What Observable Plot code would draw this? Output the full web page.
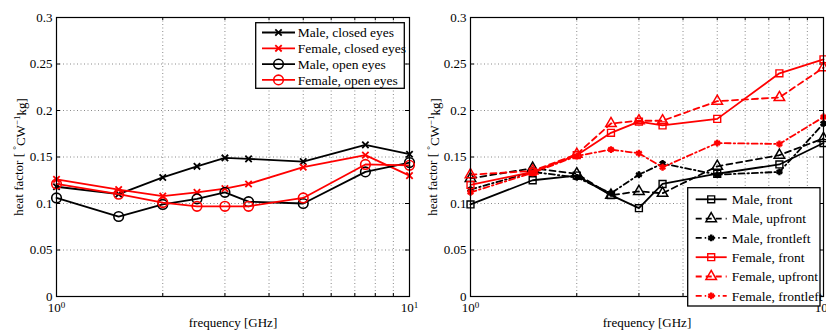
<!DOCTYPE html>
<html><head><meta charset="utf-8">
<script src="https://cdn.jsdelivr.net/npm/d3@7"></script>
<script src="https://cdn.jsdelivr.net/npm/@observablehq/plot@0.6"></script>
<style>
html,body{margin:0;padding:0;background:#fff;}
#wrap{position:relative;width:826px;height:334px;overflow:hidden;background:#fff;}
#wrap svg{position:absolute;top:0;overflow:visible;}
</style></head><body><div id="wrap"></div>
<script>
// ---- data ----
const freqs = [1, 1.5, 2, 2.5, 3, 3.5, 5, 7.5, 10];

const maleClosed   = [0.118, 0.110, 0.128, 0.140, 0.149, 0.148, 0.145, 0.163, 0.153];
const femaleClosed = [0.126, 0.115, 0.108, 0.112, 0.116, 0.121, 0.139, 0.152, 0.130];
const maleOpen     = [0.106, 0.086, 0.099, 0.105, 0.112, 0.102, 0.100, 0.134, 0.144];
const femaleOpen   = [0.121, 0.110, 0.101, 0.097, 0.097, 0.097, 0.106, 0.142, 0.141];

const maleFront       = [0.099, 0.125, 0.130, 0.109, 0.095, 0.121, 0.132, 0.142, 0.165];
const maleUpfront     = [0.127, 0.138, 0.132, 0.109, 0.113, 0.111, 0.140, 0.152, 0.170];
const maleFrontleft   = [0.115, 0.134, 0.128, 0.111, 0.131, 0.143, 0.131, 0.134, 0.186];
const femaleFront     = [0.120, 0.134, 0.152, 0.176, 0.188, 0.184, 0.191, 0.240, 0.255];
const femaleUpfront   = [0.131, 0.135, 0.153, 0.186, 0.189, 0.189, 0.210, 0.214, 0.246];
const femaleFrontleft = [0.112, 0.133, 0.151, 0.158, 0.154, 0.139, 0.165, 0.164, 0.193];

const leftNames  = ["Male, closed eyes", "Female, closed eyes", "Male, open eyes", "Female, open eyes"];
const rightNames = ["Male, front", "Male, upfront", "Male, frontleft", "Female, front", "Female, upfront", "Female, frontleft"];

const yTicks  = [0, 0.05, 0.1, 0.15, 0.2, 0.25, 0.3];
const xMajor  = [1, 10];
const xMinor  = [1, 2, 3, 4, 5, 6, 7, 8, 9, 10];
const xGrid   = [2, 3, 4, 5, 6, 7, 8, 9];
const yLabel  = "heat factor [°CW-1kg]";
const xLabel  = "frequency [GHz]";

// ---- styles ----
const BLACK = "#000000", RED = "#ff0000";
const DASH = "6,4", DASHDOT = "6,3,1.5,3";
const sym = {
  times:    {symbol: "times",    r: 3,   fill: "none", sw: 1.8},
  circle:   {symbol: "circle",   r: 4.8, fill: "none", sw: 1.6},
  square:   {symbol: "square",   r: 3.9, fill: "none", sw: 1.4},
  triangle: {symbol: "triangle", r: 3.9, fill: "none", sw: 1.5},
  asterisk: {symbol: "asterisk", r: 3.2, fill: "none", sw: 2.4}
};
const d3sym = {times: d3.symbolTimes, circle: d3.symbolCircle, square: d3.symbolSquare, triangle: d3.symbolTriangle, asterisk: d3.symbolAsterisk};

const leftSeries = [
  {name: leftNames[0], values: maleClosed,   color: BLACK, dash: null, m: "times"},
  {name: leftNames[1], values: femaleClosed, color: RED,   dash: null, m: "times"},
  {name: leftNames[2], values: maleOpen,     color: BLACK, dash: null, m: "circle"},
  {name: leftNames[3], values: femaleOpen,   color: RED,   dash: null, m: "circle"}
];
const rightSeries = [
  {name: rightNames[0], values: maleFront,       color: BLACK, dash: null,    m: "square"},
  {name: rightNames[1], values: maleUpfront,     color: BLACK, dash: DASH,    m: "triangle"},
  {name: rightNames[2], values: maleFrontleft,   color: BLACK, dash: DASHDOT, m: "asterisk"},
  {name: rightNames[3], values: femaleFront,     color: RED,   dash: null,    m: "square"},
  {name: rightNames[4], values: femaleUpfront,   color: RED,   dash: DASH,    m: "triangle"},
  {name: rightNames[5], values: femaleFrontleft, color: RED,   dash: DASHDOT, m: "asterisk"}
];

function panel(series, mL, mR, legend) {
  const W = 413, H = 334, mT = 17, mB = 38;
  const pw = W - mL - mR, ph = H - mT - mB;
  const marks = [
    Plot.gridY(yTicks.slice(1, -1), {stroke: "#8a8a8a", strokeOpacity: 1, strokeDasharray: "1,2.5"}),
    Plot.gridX(xGrid, {stroke: "#8a8a8a", strokeOpacity: 1, strokeDasharray: "1,2.5"}),
    Plot.tickY(yTicks, {y: d => d, stroke: BLACK, insetRight: pw - 4}),
    Plot.tickY(yTicks, {y: d => d, stroke: BLACK, insetLeft: pw - 4}),
    Plot.tickX(xMinor, {x: d => d, stroke: BLACK, insetTop: ph - 3}),
    Plot.tickX(xMinor, {x: d => d, stroke: BLACK, insetBottom: ph - 3}),
    Plot.axisY({ticks: yTicks, tickSize: 0, tickPadding: 4, tickFormat: d => String(d),
      label: yLabel, labelArrow: "none", labelAnchor: "center", labelOffset: 43, fontSize: 13}),
    Plot.axisX({ticks: xMajor, tickSize: 0, tickPadding: 6,
      tickFormat: d => "10^" + Math.round(Math.log10(d)),
      label: xLabel, labelArrow: "none", labelAnchor: "center", labelOffset: 30, fontSize: 13})
  ];
  for (const s of series) {
    const data = freqs.map((f, i) => ({f, v: s.values[i]}));
    const st = sym[s.m];
    marks.push(Plot.line(data, {x: "f", y: "v", stroke: s.color, strokeWidth: 1.8,
      strokeDasharray: s.dash || undefined}));
    marks.push(Plot.dot(data, {x: "f", y: "v", symbol: st.symbol, r: st.r, stroke: s.color,
      fill: st.fill, strokeWidth: st.sw}));
  }
  marks.push(Plot.frame({stroke: BLACK, strokeWidth: 1.2}));
  const svg = Plot.plot({
    width: W, height: H, marginLeft: mL, marginRight: mR, marginTop: mT, marginBottom: mB,
    style: {fontFamily: "Liberation Serif", fontSize: "13px", background: "transparent", color: "black", overflow: "visible"},
    x: {type: "log", domain: [1, 10]},
    y: {domain: [0, 0.3]},
    marks
  });
  const root = d3.select(svg);
  // superscripts
  root.selectAll("text").each(function() {
    const t = this.textContent.trim();
    const m = /^10\^(\d)$/.exec(t);
    if (m) {
      const el = d3.select(this).text(null);
      el.append("tspan").text("10");
      el.append("tspan").attr("dy", "-0.45em").attr("font-size", "9px").text(m[1]);
    } else if (t.startsWith("heat factor")) {
      const el = d3.select(this).text(null);
      el.append("tspan").text("heat factor [ ");
      el.append("tspan").attr("dy", "-0.45em").attr("font-size", "9px").text("°");
      el.append("tspan").attr("dy", "0.45em").text("CW");
      el.append("tspan").attr("dy", "-0.45em").attr("font-size", "9px").text("−1");
      el.append("tspan").attr("dy", "0.45em").text("kg]");
    } else if (t.startsWith("frequency")) {
      d3.select(this).text(xLabel);
    }
  });
  // legend
  const g = root.append("g").attr("font-family", "Liberation Serif").attr("font-size", 13.5)
    .attr("text-anchor", "start");
  g.append("rect").attr("x", legend.x).attr("y", legend.y).attr("width", legend.w).attr("height", legend.h)
    .attr("fill", "white").attr("stroke", BLACK).attr("stroke-width", 1.3);
  series.forEach((s, i) => {
    const cy = legend.y0 + i * legend.dy;
    const st = sym[s.m];
    g.append("line").attr("x1", legend.lx1).attr("x2", legend.lx2).attr("y1", cy).attr("y2", cy)
      .attr("stroke", s.color).attr("stroke-width", 1.8).attr("stroke-dasharray", s.dash);
    g.append("path").attr("d", d3.symbol(d3sym[s.m], Math.PI * st.r * st.r)())
      .attr("transform", `translate(${(legend.lx1 + legend.lx2) / 2},${cy})`)
      .attr("fill", st.fill).attr("stroke", s.color).attr("stroke-width", st.sw);
    g.append("text").attr("x", legend.tx).attr("y", cy).attr("dy", "0.35em")
      .attr("text-anchor", "start").attr("fill", BLACK).text(s.name);
  });
  return svg;
}

const wrap = document.getElementById("wrap");
const left = panel(leftSeries, 56, 4,
  {x: 255.7, y: 22.7, w: 148.6, h: 65.6, y0: 32.5, dy: 15.8, lx1: 262, lx2: 295, tx: 297.7});
left.style.left = "0px";
const right = panel(rightSeries, 57, 3,
  {x: 274.7, y: 187.7, w: 132.3, h: 118.3, y0: 199.3, dy: 19.3, lx1: 282.7, lx2: 313.7, tx: 318.7});
right.style.left = "413px";
wrap.appendChild(left);
wrap.appendChild(right);
</script></body></html>
